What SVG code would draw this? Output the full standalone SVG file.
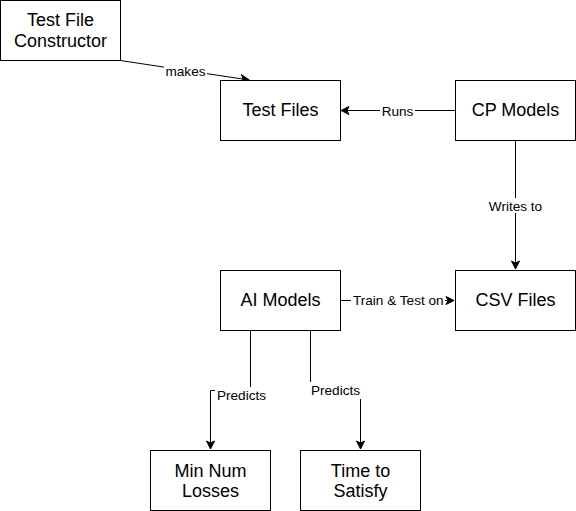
<svg xmlns="http://www.w3.org/2000/svg" width="576" height="511" viewBox="0 0 576 511">
<style>
.node rect{fill:#fff;stroke:#000;stroke-width:1}
.node text{font-family:"Liberation Sans",Arial,sans-serif;font-size:18px;fill:#000;text-anchor:middle}
.edge{fill:none;stroke:#000;stroke-width:1;marker-end:url(#arr)}
.lblbg{fill:#fff}
.lbl{font-family:"Liberation Sans",Arial,sans-serif;font-size:13.6px;fill:#000;text-anchor:middle}
</style>
<defs>
<marker id="arr" markerUnits="userSpaceOnUse" viewBox="-9 -5 10 10" refX="0" refY="0" markerWidth="10" markerHeight="10" orient="auto">
<path d="M0,0 L-8,-4 L-6,0 L-8,4 Z" fill="#000" stroke="#000" stroke-width="1"/>
</marker>
</defs>
<rect width="576" height="511" fill="#fff"/>
<g id="connectors">
<path class="edge" d="M120.5,60.5 L249,80"/>
<path class="edge" d="M455,110.5 H341"/>
<path class="edge" d="M515.5,140 V269"/>
<path class="edge" d="M340,300.5 H454"/>
<path class="edge" d="M250.5,330 V390.5 H210.5 V449"/>
<path class="edge" d="M310.5,330 V390.5 H360.5 V449"/>
<rect class="lblbg" x="164" y="63" width="43" height="15"/>
<text class="lbl" x="185.5" y="76">makes</text>
<rect class="lblbg" x="380" y="103" width="35" height="15"/>
<text class="lbl" x="397.5" y="115.5">Runs</text>
<rect class="lblbg" x="486" y="198" width="59" height="15"/>
<text class="lbl" x="515.5" y="210.5">Writes to</text>
<rect class="lblbg" x="351" y="292" width="94" height="15"/>
<text class="lbl" x="398.3" y="304.5">Train &amp; Test on</text>
<rect class="lblbg" x="215" y="387" width="54" height="17"/>
<text class="lbl" x="241.5" y="400">Predicts</text>
<rect class="lblbg" x="308" y="382" width="55" height="17"/>
<text class="lbl" x="335.5" y="395">Predicts</text>
</g>
<g id="test-file-constructor" class="node">
<rect x="0.5" y="0.5" width="120" height="60"/>
<text x="60.5" y="26">Test File</text>
<text x="60.5" y="47">Constructor</text>
</g>
<g id="test-files" class="node">
<rect x="220.5" y="80.5" width="120" height="60"/>
<text x="280.5" y="116">Test Files</text>
</g>
<g id="cp-models" class="node">
<rect x="455.5" y="80.5" width="120" height="60"/>
<text x="515.5" y="116">CP Models</text>
</g>
<g id="ai-models" class="node">
<rect x="220.5" y="270.5" width="120" height="60"/>
<text x="280.5" y="306">AI Models</text>
</g>
<g id="csv-files" class="node">
<rect x="455.5" y="270.5" width="120" height="60"/>
<text x="515.5" y="306">CSV Files</text>
</g>
<g id="min-num-losses" class="node">
<rect x="150.5" y="450.5" width="120" height="60"/>
<text x="210.5" y="476.5">Min Num</text>
<text x="210.5" y="497">Losses</text>
</g>
<g id="time-to-satisfy" class="node">
<rect x="300.5" y="450.5" width="120" height="60"/>
<text x="360.5" y="476.5">Time to</text>
<text x="360.5" y="497">Satisfy</text>
</g>
</svg>
